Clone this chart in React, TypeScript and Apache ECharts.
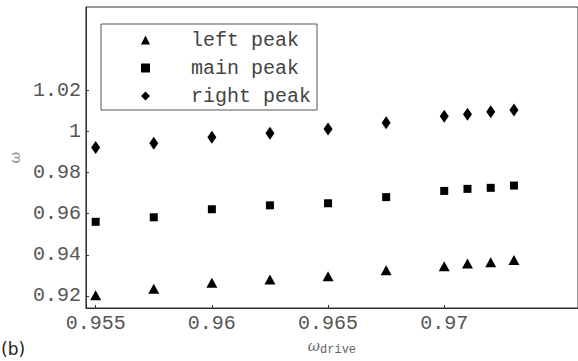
import React, { useEffect, useRef } from "react";
import * as echarts from "echarts";

const driveFreq = [0.955, 0.9575, 0.96, 0.9625, 0.965, 0.9675, 0.97, 0.971, 0.972, 0.973];
const leftPeak = [0.9203, 0.9235, 0.9264, 0.928, 0.9295, 0.9325, 0.9344, 0.9358, 0.9363, 0.9374];
const mainPeak = [0.956, 0.9582, 0.9621, 0.964, 0.965, 0.968, 0.971, 0.972, 0.9725, 0.9736];
const rightPeak = [0.9921, 0.9941, 0.9971, 0.999, 1.0011, 1.0041, 1.0073, 1.0082, 1.0094, 1.0103];
const xTicks = [0.955, 0.96, 0.965, 0.97];
const yTicks = [0.92, 0.94, 0.96, 0.98, 1, 1.02];
const seriesNames = ["left peak", "main peak", "right peak"];

const MONO = "'Liberation Mono', 'DejaVu Sans Mono', monospace";

export default function App() {
  const ref = useRef<HTMLDivElement>(null);
  useEffect(() => {
    if (!ref.current) return;
    const chart = echarts.init(ref.current, undefined, { renderer: "svg" });
    const pair = (ys: number[]) => driveFreq.map((x, i) => [x, ys[i]]);
    chart.setOption({
      animation: false,
      backgroundColor: "#ffffff",
      grid: {
        left: 76,
        top: 7,
        right: -2,
        bottom: 47,
        show: true,
        borderColor: "#333",
        borderWidth: 1,
        backgroundColor: "transparent",
      },
      legend: {
        orient: "vertical",
        left: 101,
        top: 24,
        padding: [6, 6, 4, 40],
        itemGap: 8,
        itemWidth: 9,
        itemHeight: 9,
        borderColor: "#555",
        borderWidth: 1,
        backgroundColor: "#fff",
        data: [
          { name: seriesNames[0], icon: "triangle" },
          { name: seriesNames[1], icon: "rect" },
          { name: seriesNames[2], icon: "diamond" },
        ],
        textStyle: {
          fontFamily: MONO,
          fontSize: 20,
          lineHeight: 20,
          color: "#444",
          padding: [0, 0, 0, 36],
        },
      },
      xAxis: {
        type: "value",
        min: 0.95458,
        max: 0.975756,
        name: "{w|ω}{s|drive}",
        nameLocation: "middle",
        nameGap: 28,
        nameTextStyle: {
          rich: {
            w: { fontFamily: "'DejaVu Serif', serif", fontStyle: "italic", fontSize: 15, color: "#666" },
            s: { fontFamily: MONO, fontSize: 12, color: "#666", padding: [8, 0, 0, 0] },
          },
        },
        axisLine: { show: true, lineStyle: { color: "#333", width: 1 } },
        axisTick: { show: true, inside: true, length: 3, customValues: xTicks, lineStyle: { color: "#333" } },
        axisLabel: {
          customValues: xTicks,
          margin: 5,
          fontFamily: MONO,
          fontSize: 20,
          color: "#555",
        },
        splitLine: { show: false },
      },
      yAxis: {
        type: "value",
        min: 0.91414,
        max: 1.06033,
        name: "ω",
        nameLocation: "middle",
        nameRotate: 90,
        nameGap: 62,
        nameTextStyle: { fontFamily: "'DejaVu Serif', serif", fontSize: 14, color: "#888" },
        axisLine: { show: true, lineStyle: { color: "#333", width: 1 } },
        axisTick: { show: true, inside: true, length: 3, customValues: yTicks, lineStyle: { color: "#333" } },
        axisLabel: {
          customValues: yTicks,
          margin: 5,
          fontFamily: MONO,
          fontSize: 20,
          color: "#555",
        },
        splitLine: { show: false },
      },
      graphic: [
        {
          type: "text",
          left: 1,
          top: 340,
          style: { text: "(b)", fontFamily: "'DejaVu Sans', sans-serif", fontSize: 17, fill: "#222" },
        },
      ],
      series: [
        {
          name: seriesNames[0],
          type: "scatter",
          symbol: "triangle",
          symbolSize: [11, 10],
          itemStyle: { color: "#000", opacity: 1 },
          data: pair(leftPeak),
        },
        {
          name: seriesNames[1],
          type: "scatter",
          symbol: "rect",
          symbolSize: [8, 8],
          itemStyle: { color: "#000", opacity: 1 },
          data: pair(mainPeak),
        },
        {
          name: seriesNames[2],
          type: "scatter",
          symbol: "diamond",
          symbolSize: [9, 13],
          itemStyle: { color: "#000", opacity: 1 },
          data: pair(rightPeak),
        },
      ],
    });
    return () => chart.dispose();
  }, []);
  return (
    <div
      ref={ref}
      style={{ position: "fixed", left: 0, top: 0, width: 578, height: 361, background: "#fff" }}
    />
  );
}
